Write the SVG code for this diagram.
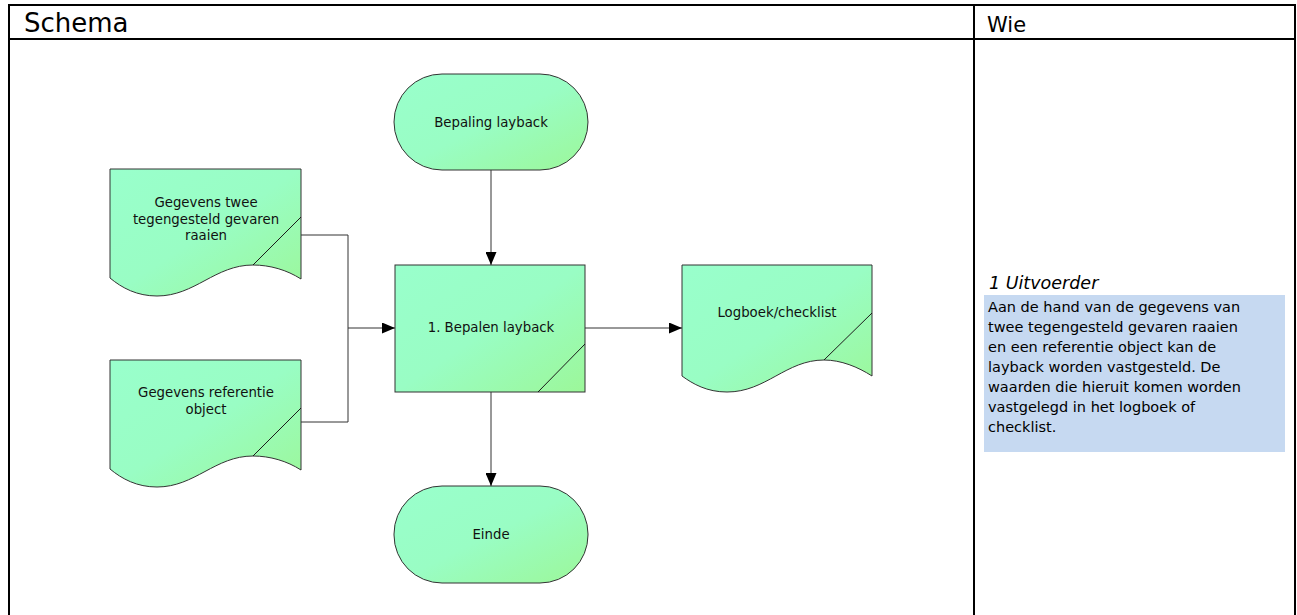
<svg xmlns="http://www.w3.org/2000/svg" xmlns:xlink="http://www.w3.org/1999/xlink" width="1297" height="615" viewBox="0 0 1297 615">
  <style>
    .frame { fill: none; stroke: #000; stroke-width: 2; }
    .shape { fill: url(#fillGrad); stroke: #333; stroke-width: 1; }
    .fold { fill: none; stroke: #1a1a1a; stroke-width: 1; }
    .label { font-family: "DejaVu Sans", Verdana, sans-serif; font-size: 13.3px; fill: #111; text-anchor: middle; }
    .head { font-family: "DejaVu Sans", Verdana, sans-serif; fill: #000; }
    .note { font-family: "DejaVu Sans", Verdana, sans-serif; font-size: 14.5px; fill: #000; }
    .role { font-family: "DejaVu Sans", Verdana, sans-serif; font-size: 17.5px; font-style: italic; fill: #000; }
    .wire { fill: none; stroke: #333; stroke-width: 1; }
  </style>
  <defs>
    <linearGradient id="fillGrad" x1="0" y1="0" x2="1" y2="1">
      <stop offset="0" stop-color="#99FFCC"/>
      <stop offset="0.5" stop-color="#99FDC4"/>
      <stop offset="1" stop-color="#9CF799"/>
    </linearGradient>
    <marker id="arrow" markerWidth="13" markerHeight="11" refX="13" refY="5.5" orient="auto" markerUnits="userSpaceOnUse">
      <path d="M0,0 L13,5.5 L0,11 z" fill="#000"/>
    </marker>
  </defs>

  <rect width="1297" height="615" fill="#fff"/>

  <!-- table frame -->
  <g id="table">
    <path class="frame" d="M9,620 V5 H1295 V620"/>
    <path class="frame" d="M9,39 H1295"/>
    <path class="frame" d="M974,5 V620"/>
    <text class="head" x="24" y="32" font-size="26">Schema</text>
    <text class="head" x="987" y="32" font-size="21">Wie</text>
  </g>

  <!-- connectors -->
  <g id="connectors">
    <path class="wire" d="M491,170 V265" marker-end="url(#arrow)"/>
    <path class="wire" d="M301,235 H348 V422 H301"/>
    <path class="wire" d="M348,328 H395" marker-end="url(#arrow)"/>
    <path class="wire" d="M585,328 H682" marker-end="url(#arrow)"/>
    <path class="wire" d="M491,392 V486" marker-end="url(#arrow)"/>
  </g>

  <g id="start">
    <rect class="shape" x="394" y="74" width="194" height="96" rx="48" ry="48"/>
    <text class="label" x="491" y="127">Bepaling layback</text>
  </g>

  <g id="doc-raaien" transform="translate(110,169)">
    <path class="shape" d="M0,0 H191 V110 C177,101 160,96 143,96 C105,96 85,127 47,127 C27,127 12,119 0,109 Z"/>
    <path class="fold" d="M143,96 L191,48"/>
    <text class="label" x="96" y="38">Gegevens twee</text>
    <text class="label" x="96" y="55">tegengesteld gevaren</text>
    <text class="label" x="96" y="71">raaien</text>
  </g>

  <g id="doc-referentie" transform="translate(110,360)">
    <path class="shape" d="M0,0 H191 V110 C177,101 160,96 143,96 C105,96 85,127 47,127 C27,127 12,119 0,109 Z"/>
    <path class="fold" d="M143,96 L191,48"/>
    <text class="label" x="96" y="37">Gegevens referentie</text>
    <text class="label" x="96" y="54">object</text>
  </g>

  <g id="process">
    <rect class="shape" x="395" y="265" width="190" height="127"/>
    <path class="fold" d="M538,392 L585,344"/>
    <text class="label" x="491" y="332">1. Bepalen layback</text>
  </g>

  <g id="doc-logboek" transform="translate(682,265)">
    <path class="shape" d="M0,0 H190 V111 C176,102 159,95 142,95 C104,95 84,127 45,127 C25,127 11,119 0,111 Z"/>
    <path class="fold" d="M142,95 L190,48"/>
    <text class="label" x="95" y="52">Logboek/checklist</text>
  </g>

  <g id="end">
    <rect class="shape" x="394" y="486" width="194" height="97" rx="48" ry="48"/>
    <text class="label" x="491" y="539">Einde</text>
  </g>

  <!-- who column -->
  <g id="who">
    <text class="role" x="989" y="289">1 Uitvoerder</text>
    <rect x="984" y="295" width="301" height="157" fill="#C6D9F1"/>
    <text class="note" x="988" y="312">Aan de hand van de gegevens van</text>
    <text class="note" x="988" y="332">twee tegengesteld gevaren raaien</text>
    <text class="note" x="988" y="352">en een referentie object kan de</text>
    <text class="note" x="988" y="372">layback worden vastgesteld. De</text>
    <text class="note" x="988" y="392">waarden die hieruit komen worden</text>
    <text class="note" x="988" y="412">vastgelegd in het logboek of</text>
    <text class="note" x="988" y="432">checklist.</text>
  </g>
</svg>
